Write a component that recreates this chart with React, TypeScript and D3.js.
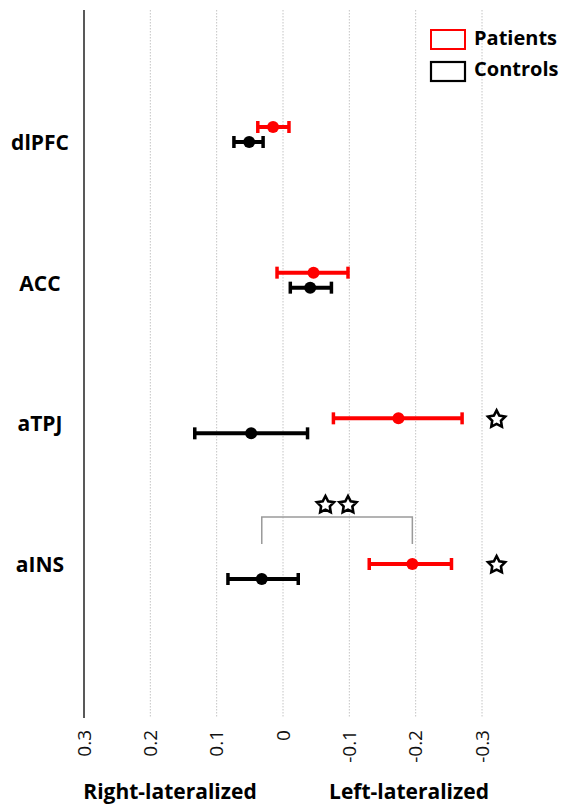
import * as d3 from "d3";

// regions, top to bottom
const regions = ["dlPFC", "ACC", "aTPJ", "aINS"];

// lateralization index: mean and error bar ends (patients / controls)
const patientMean = [0.015, -0.046, -0.174, -0.195];
const patientLow = [0.038, 0.009, -0.076, -0.13];
const patientHigh = [-0.009, -0.098, -0.27, -0.254];

const controlMean = [0.051, -0.041, 0.048, 0.032];
const controlLow = [0.074, -0.011, 0.133, 0.083];
const controlHigh = [0.03, -0.073, -0.037, -0.023];

// significance stars next to regions (patients vs 0)
const starRegions = ["aTPJ", "aINS"];
const starValue = -0.322;
// the two stars above the patients-vs-controls bracket
const bracketStars = [-0.064, -0.098];

const tickValues = [0.3, 0.2, 0.1, 0, -0.1, -0.2, -0.3];

const width = 565;
const height = 806;
const font = "'Open Sans', 'DejaVu Sans', sans-serif";

const x = d3.scaleLinear().domain([0.3, -0.3]).range([84, 482]);
const yRow = d3.scalePoint<string>().domain(regions).range([127, 564]);
const yLabel = d3.scalePoint<string>().domain(regions).range([150, 572]);
const controlOffset = 15;

// five-point star, chunky like the original
const starPoints = d3.range(10).map((i) => [(i * Math.PI) / 5, i % 2 ? 4.6 : 9] as [number, number]);
const starPath = d3.lineRadial().curve(d3.curveLinearClosed)(starPoints) as string;

function ErrorBar({ cy, mean, lo, hi, color }: { cy: number; mean: number; lo: number; hi: number; color: string }) {
  return (
    <g>
      <line x1={x(lo)} x2={x(hi)} y1={cy} y2={cy} stroke={color} strokeWidth={4} />
      <line x1={x(lo)} x2={x(lo)} y1={cy - 6} y2={cy + 6} stroke={color} strokeWidth={3.5} />
      <line x1={x(hi)} x2={x(hi)} y1={cy - 6} y2={cy + 6} stroke={color} strokeWidth={3.5} />
      <circle cx={x(mean)} cy={cy} r={6} fill={color} />
    </g>
  );
}

function Star({ cx, cy }: { cx: number; cy: number }) {
  return (
    <path
      d={starPath}
      transform={`translate(${cx},${cy + 1})`}
      fill="white"
      stroke="black"
      strokeWidth={2.6}
      strokeLinejoin="miter"
    />
  );
}

export default function App() {
  const top = 10;
  const bottom = 718;
  const ains = regions.indexOf("aINS");
  const bracketTop = yRow("aINS")! - 47;
  const bracketBottom = yRow("aINS")! - 20;

  return (
    <svg
      width={width}
      height={height}
      style={{ position: "absolute", left: 0, top: 0, background: "white" }}
      fontFamily={font}
    >
      {/* grid */}
      {tickValues
        .filter((t) => t !== 0.3)
        .map((t) => (
          <line
            key={t}
            x1={x(t)}
            x2={x(t)}
            y1={top}
            y2={bottom}
            stroke="#c4c4c4"
            strokeWidth={1}
            strokeDasharray="1.5,1.5"
          />
        ))}
      <line x1={x(0.3)} x2={x(0.3)} y1={top} y2={bottom} stroke="#222" strokeWidth={1.5} />

      {/* tick labels */}
      {tickValues.map((t) => (
        <text
          key={t}
          transform={`translate(${x(t)},730) rotate(-90)`}
          textAnchor="end"
          dy="0.35em"
          fontSize={19}
          fill="#111"
        >
          {t === 0 ? "0" : String(t)}
        </text>
      ))}

      {/* region labels */}
      {regions.map((r) => (
        <text key={r} x={40} y={yLabel(r)} textAnchor="middle" fontSize={21} fontWeight="bold">
          {r}
        </text>
      ))}

      {/* bracket between patients and controls in aINS */}
      <path
        d={`M${x(controlMean[ains])},${bracketBottom}V${bracketTop}H${x(patientMean[ains])}V${bracketBottom}`}
        fill="none"
        stroke="#9a9a9a"
        strokeWidth={1.5}
      />
      {bracketStars.map((v) => (
        <Star key={v} cx={x(v)} cy={bracketTop - 13} />
      ))}

      {/* error bars */}
      {regions.map((r, i) => (
        <g key={r}>
          <ErrorBar
            cy={yRow(r)!}
            mean={patientMean[i]}
            lo={patientLow[i]}
            hi={patientHigh[i]}
            color="#ff0000"
          />
          <ErrorBar
            cy={yRow(r)! + controlOffset}
            mean={controlMean[i]}
            lo={controlLow[i]}
            hi={controlHigh[i]}
            color="#000"
          />
        </g>
      ))}

      {starRegions.map((r) => (
        <Star key={r} cx={x(starValue)} cy={yRow(r)!} />
      ))}

      {/* legend */}
      <rect x={431} y={30} width={34} height={19} fill="white" stroke="#ff0000" strokeWidth={2} />
      <text x={474} y={45} fontSize={20} fontWeight="bold">
        Patients
      </text>
      <rect x={431} y={62} width={34} height={19} fill="white" stroke="#000" strokeWidth={2.2} />
      <text x={474} y={76} fontSize={20} fontWeight="bold">
        Controls
      </text>

      {/* direction labels */}
      <text x={170} y={799} textAnchor="middle" fontSize={21} fontWeight="bold">
        Right-lateralized
      </text>
      <text x={409} y={799} textAnchor="middle" fontSize={21} fontWeight="bold">
        Left-lateralized
      </text>
    </svg>
  );
}
